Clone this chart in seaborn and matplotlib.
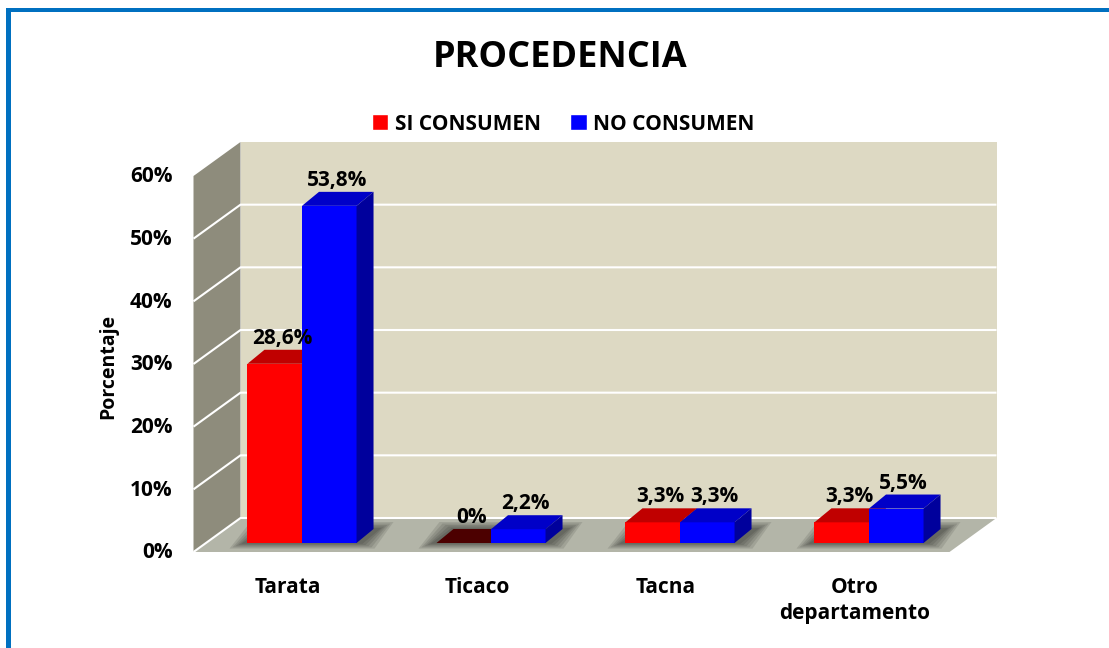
import matplotlib
matplotlib.use('Agg')
import pandas as pd
import matplotlib.pyplot as plt
import seaborn as sns
from matplotlib.patches import Polygon, Rectangle, Patch

# data
lugares = ['Tarata', 'Ticaco', 'Tacna', 'Otro\ndepartamento']
si_consumen = [28.6, 0.0, 3.3, 3.3]
no_consumen = [53.8, 2.2, 3.3, 5.5]
etiquetas_si = ['28,6%', '0%', '3,3%', '3,3%']
etiquetas_no = ['53,8%', '2,2%', '3,3%', '5,5%']
grupos = ['SI CONSUMEN', 'NO CONSUMEN']
yticks = [0, 10, 20, 30, 40, 50, 60]

df = pd.DataFrame({
    'lugar': lugares * 2,
    'pct': si_consumen + no_consumen,
    'grupo': [grupos[0]] * len(lugares) + [grupos[1]] * len(lugares),
})

sns.set_style('white')
plt.rcParams['font.family'] = ['Open Sans', 'DejaVu Sans']
plt.rcParams['font.weight'] = 'bold'
plt.rcParams['text.color'] = 'black'

W, H, DPI = 1109, 648, 100
fig = plt.figure(figsize=(W / DPI, H / DPI), dpi=DPI)

# axes = plane of the bar fronts (pixel box)
px_l, px_r, px_b, px_t = 207.5, 963.5, 543, 167
ax = fig.add_axes([px_l / W, 1 - px_b / H, (px_r - px_l) / W, (px_b - px_t) / H])

sns.barplot(data=df, x='lugar', y='pct', hue='grupo', order=lugares,
            palette=['#FF0000', '#0000FF'], width=0.577, gap=0,
            saturation=1, legend=False, linewidth=0, ax=ax)
bars = sorted(ax.patches, key=lambda p: p.get_x())

ax.set_xlim(-0.5, len(lugares) - 0.5)
ax.set_ylim(0, yticks[-1])
ax.axis('off')

ux = (len(lugares)) / (px_r - px_l)
uy = yticks[-1] / (px_b - px_t)


def off(x, y, dx, dy):
    # shift a data point by a pixel offset (depth effect)
    return (x + dx * ux, y + dy * uy)


FRONT = (-14, -9)
BACK = (33, 25)
DEPTH = (17, 14)
x0, x1 = -0.5, len(lugares) - 0.5
ytop = yticks[-1]
fs = 15

# walls
floor = Polygon([off(x0, 0, *FRONT), off(x1, 0, *FRONT), off(x1, 0, *BACK), off(x0, 0, *BACK)],
                closed=True, fc='#B3B5A8', ec='none', zorder=0.5, clip_on=False)
side = Polygon([off(x0, 0, *FRONT), off(x0, ytop, *FRONT), off(x0, ytop, *BACK), off(x0, 0, *BACK)],
               closed=True, fc='#8E8C7C', ec='none', zorder=0.5, clip_on=False)
back = Polygon([off(x0, 0, *BACK), off(x1, 0, *BACK), off(x1, ytop, *BACK), off(x0, ytop, *BACK)],
               closed=True, fc='#DDD9C3', ec='none', zorder=0.5, clip_on=False)
for p in (floor, side, back):
    ax.add_patch(p)

for v in yticks[:-1]:
    a, b, c = off(x0, v, *FRONT), off(x0, v, *BACK), off(x1, v, *BACK)
    ax.plot([a[0], b[0], c[0]], [a[1], b[1], c[1]], color='white', lw=1.5,
            zorder=0.8, clip_on=False, solid_capstyle='butt')

# bar shadows on the floor
for i in range(len(lugares)):
    bl, br = bars[2 * i], bars[2 * i + 1]
    xl, xr = bl.get_x(), br.get_x() + br.get_width()
    for e in [2, 5, 8, 11, 14]:
        sh = Polygon([off(xl, 0, -e - 4, -e * 0.4), off(xr, 0, e + 4, -e * 0.4),
                      off(xr, 0, DEPTH[0] + e + 6, DEPTH[1] + e * 0.5),
                      off(xl, 0, DEPTH[0] - e, DEPTH[1] + e * 0.5)],
                     closed=True, fc='black', ec='none', alpha=0.1, zorder=1,
                     clip_on=False)
        ax.add_patch(sh)
        sh.set_clip_path(floor)

# 3d faces
tops = ['#C00000', '#0000C8']
sides = ['#A00000', '#00009C']
labels = [etiquetas_si, etiquetas_no]
for i in range(len(lugares)):
    for j in range(2):
        p = bars[2 * i + j]
        bx, bw, h = p.get_x(), p.get_width(), p.get_height()
        z = 3 + i * 0.1 + j * 0.03
        p.set_zorder(z)
        top_c = tops[j] if h > 0 else '#4C0000'
        ax.add_patch(Polygon([(bx, h), (bx + bw, h), off(bx + bw, h, *DEPTH), off(bx, h, *DEPTH)],
                             closed=True, fc=top_c, ec='none', zorder=z + 0.01, clip_on=False))
        ax.add_patch(Polygon([(bx + bw, 0), (bx + bw, h), off(bx + bw, h, *DEPTH), off(bx + bw, 0, *DEPTH)],
                             closed=True, fc=sides[j], ec='none', zorder=z + 0.02, clip_on=False))
        tx, ty = off(bx + bw / 2, h, DEPTH[0] / 2 - 1, DEPTH[1] + 1)
        ax.text(tx, ty, labels[j][i], ha='center', va='bottom', fontsize=fs,
                fontweight='bold', zorder=10)

# category labels and y tick labels on the front plane
for i, nombre in enumerate(lugares):
    tx, ty = off(i, 0, FRONT[0], FRONT[1] - 25)
    ax.text(tx, ty, nombre, ha='center', va='top', fontsize=fs,
            fontweight='bold', linespacing=1.32, clip_on=False)
for v in yticks:
    tx, ty = off(x0, v, FRONT[0] - 21, FRONT[1] - 1)
    ax.text(tx, ty, f'{v}%', ha='right', va='center', fontsize=fs,
            fontweight='bold', clip_on=False)

fig.text(108 / W, 1 - 366 / H, 'Porcentaje', rotation=90, ha='center', va='center',
         fontsize=14, fontweight='bold')
fig.text(560 / W, 1 - 58 / H, 'PROCEDENCIA', ha='center', va='center',
         fontsize=26, fontweight='bold')

fig.legend(handles=[Patch(fc='#FF0000'), Patch(fc='#0000FF')], labels=grupos,
           loc='center', bbox_to_anchor=(563 / W, 1 - 124 / H), ncol=2, frameon=False,
           prop={'size': fs, 'weight': 'bold'}, handlelength=0.8, handleheight=0.8,
           handletextpad=0.3, columnspacing=1.4)

# blue frame (left and top)
fig.add_artist(Rectangle((6 / W, 0), 5 / W, (H - 8) / H, transform=fig.transFigure,
                         fc='#0070C0', ec='none'))
fig.add_artist(Rectangle((6 / W, 1 - 12 / H), (W - 6) / W, 4 / H, transform=fig.transFigure,
                         fc='#0070C0', ec='none'))

fig.savefig('out.png', dpi=DPI)
